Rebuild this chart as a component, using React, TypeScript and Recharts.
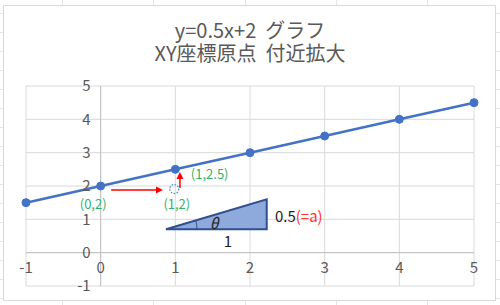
import React from "react";
import {
  LineChart,
  Line,
  XAxis,
  YAxis,
  CartesianGrid,
  ReferenceLine,
  ReferenceDot,
} from "recharts";

const xValues = [-1, 0, 1, 2, 3, 4, 5];
const yValues = [1.5, 2, 2.5, 3, 3.5, 4, 4.5];
const axisTicks = [-1, 0, 1, 2, 3, 4, 5];
const titleLines = ["y=0.5x+2  グラフ", "XY座標原点  付近拡大"];

const pointLabels = [
  { x: -0.1, y: 1.46, text: "(0,2)" },
  { x: 1.02, y: 1.44, text: "(1,2)" },
  { x: 1.46, y: 2.36, text: "(1,2.5)" },
];

const data = xValues.map((x, i) => ({ x, y: yValues[i] }));

const W = 500;
const H = 305;
const M = { top: 86, right: 26, bottom: 19, left: 26 };

const font = "'Noto Sans CJK JP', 'Noto Sans', sans-serif";
const gray = "#595959";
const green = "#2fb16a";

const Arrow = (props: any) => {
  const { x1, y1, x2, y2 } = props;
  const ang = Math.atan2(y2 - y1, x2 - x1);
  const s = 7;
  const w = 3.5;
  const bx = x2 - s * Math.cos(ang);
  const by = y2 - s * Math.sin(ang);
  const px = -Math.sin(ang) * w;
  const py = Math.cos(ang) * w;
  return (
    <g>
      <line x1={x1} y1={y1} x2={bx} y2={by} stroke="#ff0000" strokeWidth={1.5} />
      <polygon
        points={`${x2},${y2} ${bx + px},${by + py} ${bx - px},${by - py}`}
        fill="#ff0000"
      />
    </g>
  );
};

const Triangle = (props: any) => {
  const { x1, y1, x2, y2 } = props;
  const r = 31;
  const ang = Math.atan2(y1 - y2, x2 - x1);
  const ax = x1 + r * Math.cos(ang);
  const ay = y1 - r * Math.sin(ang);
  return (
    <g>
      <polygon
        points={`${x1},${y1} ${x2},${y1} ${x2},${y2}`}
        fill="#8ea9db"
        stroke="#2f4f8f"
        strokeWidth={2}
      />
      <path
        d={`M${x1 + r},${y1} A${r},${r} 0 0 0 ${ax},${ay}`}
        fill="none"
        stroke="#2f4f8f"
        strokeWidth={1}
      />
    </g>
  );
};

const textShape =
  (
    text: React.ReactNode,
    color: string,
    size: number,
    anchor = "middle",
    italic = false,
    dx = 0,
    dy = 0
  ) =>
  (props: any) => (
    <text
      x={props.cx + dx}
      y={props.cy + dy}
      dy="0.355em"
      textAnchor={anchor}
      fontSize={size}
      fill={color}
      fontFamily={font}
      fontStyle={italic ? "italic" : "normal"}
    >
      {text}
    </text>
  );

const DottedCircle = (props: any) => (
  <circle
    cx={props.cx}
    cy={props.cy}
    r={4.5}
    fill="none"
    stroke="#4a86c8"
    strokeWidth={1.2}
    strokeDasharray="1.5 1.5"
  />
);

const colLines = [62, 153, 245, 336, 427];
const rowLines = [13, 32, 51, 70, 89, 108, 127, 146, 165, 184, 203, 222, 241, 260, 279, 298];

export default function App() {
  return (
    <div
      style={{
        position: "absolute",
        left: 0,
        top: 0,
        width: W,
        height: H,
        background: "#fff",
        overflow: "hidden",
      }}
    >
      {colLines.map((x) => (
        <div
          key={"c" + x}
          style={{ position: "absolute", left: x, top: 0, width: 1, height: H, background: "#e4e4e4" }}
        />
      ))}
      {rowLines.map((y) => (
        <div
          key={"r" + y}
          style={{ position: "absolute", left: 0, top: y, width: W, height: 1, background: "#e4e4e4" }}
        />
      ))}
      <div
        style={{
          position: "absolute",
          left: 3,
          top: 5,
          width: 491,
          height: 294,
          background: "#fff",
          border: "1px solid #d9d9d9",
        }}
      />
      {titleLines.map((t, i) => (
        <div
          key={t}
          style={{
            position: "absolute",
            left: 0,
            top: 19 + i * 23,
            width: W,
            height: 22,
            textAlign: "center",
            fontFamily: font,
            fontSize: 20,
            lineHeight: "22px",
            color: gray,
            whiteSpace: "pre",
          }}
        >
          {t}
        </div>
      ))}
      <div style={{ position: "absolute", left: 0, top: 0 }}>
        <LineChart width={W} height={H} data={data} margin={M}>
          <CartesianGrid stroke="#d9d9d9" strokeWidth={1} />
          <XAxis dataKey="x" type="number" domain={[-1, 5]} ticks={axisTicks} hide />
          <YAxis type="number" domain={[-1, 5]} ticks={axisTicks} hide />
          <ReferenceLine x={0} stroke="#bfbfbf" strokeWidth={1} />
          <ReferenceLine y={0} stroke="#bfbfbf" strokeWidth={1} />
          {axisTicks.map((t) => (
            <ReferenceDot
              key={"xt" + t}
              x={t}
              y={0}
              ifOverflow="visible"
              shape={textShape(String(t), gray, 15, "middle", false, 0, 15)}
            />
          ))}
          {axisTicks.map((t) => (
            <ReferenceDot
              key={"yt" + t}
              x={0}
              y={t}
              ifOverflow="visible"
              shape={textShape(String(t), gray, 15, "end", false, -10, 0)}
            />
          ))}
          <ReferenceLine
            segment={[
              { x: 0.875, y: 0.7 },
              { x: 2.224, y: 1.6 },
            ]}
            shape={<Triangle />}
          />
          <ReferenceLine
            segment={[
              { x: 0.14, y: 1.88 },
              { x: 0.835, y: 1.88 },
            ]}
            shape={<Arrow />}
          />
          <ReferenceLine
            segment={[
              { x: 1.062, y: 1.94 },
              { x: 1.062, y: 2.42 },
            ]}
            shape={<Arrow />}
          />
          <ReferenceDot x={0.986} y={1.91} shape={<DottedCircle />} />
          <Line
            dataKey="y"
            stroke="#4472c4"
            strokeWidth={2.5}
            dot={{ r: 4, fill: "#4472c4", stroke: "#4472c4", strokeWidth: 1 }}
            isAnimationActive={false}
          />
          {pointLabels.map((p) => (
            <ReferenceDot
              key={p.text}
              x={p.x}
              y={p.y}
              shape={textShape(p.text, green, 13)}
              ifOverflow="visible"
            />
          ))}
          <ReferenceDot x={1.52} y={0.86} shape={textShape("θ", "#222", 15, "middle", true)} />
          <ReferenceDot x={1.705} y={0.32} shape={textShape("1", "#222", 15)} />
          <ReferenceDot
            x={2.334}
            y={1.07}
            shape={textShape(
              <>
                <tspan fill="#222">0.5</tspan>
                <tspan fill="#ff3333">(=a)</tspan>
              </>,
              "#222",
              15,
              "start"
            )}
          />
        </LineChart>
      </div>
    </div>
  );
}
